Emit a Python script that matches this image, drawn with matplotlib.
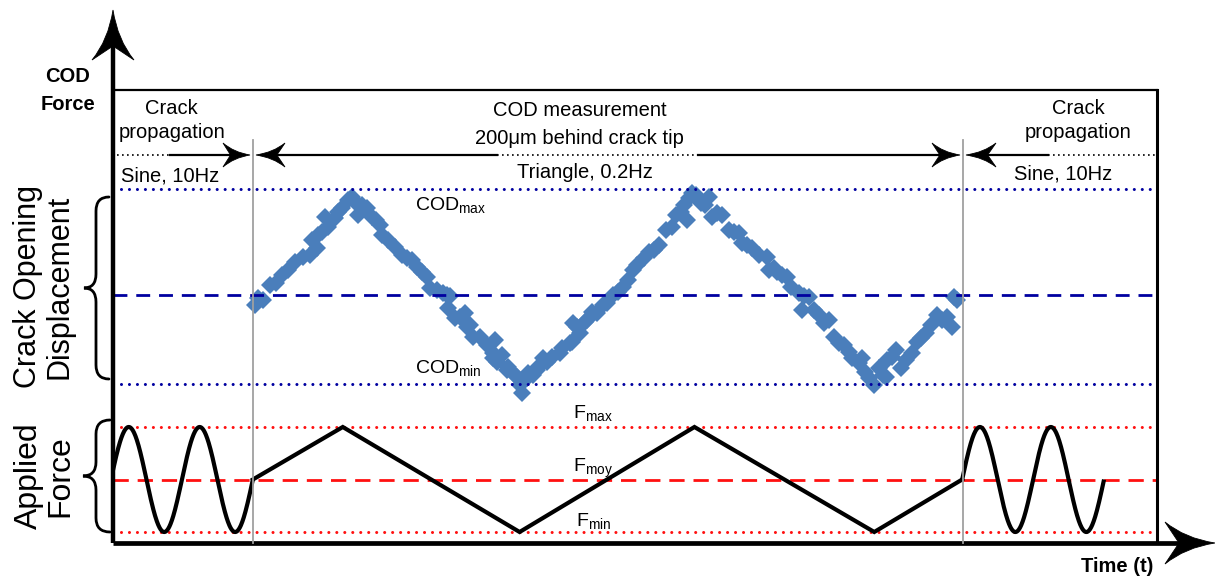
#!/usr/bin/env python

import numpy as np
import matplotlib
matplotlib.use('Agg')
from matplotlib import pyplot as plt
from matplotlib.path import Path
from matplotlib.patches import PathPatch

plt.rcParams['font.family'] = ['Liberation Sans', 'DejaVu Sans']
plt.rcParams['mathtext.fontset'] = 'custom'
plt.rcParams['mathtext.rm'] = 'Liberation Sans'
plt.rcParams['mathtext.it'] = 'Liberation Sans:italic'
plt.rcParams['mathtext.bf'] = 'Liberation Sans:bold'

W, H = 1215, 580

# time axis in arbitrary units, 0 = left edge of the record
T_END = 1045
t_switch = [140, 850]          # start / end of the COD measurement window

# applied force levels (a.u.)
F_MIN, F_MOY, F_MAX = 0, 53, 106
# triangle, 0.2Hz : vertices
tri_t = [140, 230, 407, 582, 762, 850]
tri_f = [F_MOY, F_MAX, F_MIN, F_MAX, F_MIN, F_MOY]
# sine, 10Hz : (start, end, rising zero crossing)
SINE_PERIOD = 71
sine_blocks = [(0, 140, 140), (850, 992, 850)]

# crack opening displacement levels (a.u.)
COD_MIN, COD_MOY, COD_MAX = 0, 89, 195
# measured COD points
cod_t = [142, 145, 150, 157, 163, 169, 175, 182, 190, 197, 199, 204, 205, 209,
         215, 212, 222, 225, 229, 235, 239, 242,
         245, 249, 254, 259, 263, 267, 269, 275, 282, 289, 294, 299, 304, 309,
         314, 317, 324, 330, 334, 337, 335, 342, 347, 352, 354, 357, 360, 367,
         374, 380, 382, 380, 384, 389, 394, 395, 402, 404, 407, 409,
         414, 415, 420, 424, 425, 430, 434, 439, 447, 449, 457, 459, 460, 464,
         467, 472, 474, 479, 484, 490, 494, 500, 505, 510, 515, 520, 525, 532,
         537, 542, 547, 554, 560, 564, 569, 572, 575, 577, 580, 584,
         589, 593, 597, 600, 605, 610, 617, 622, 627, 630, 635, 640, 647, 655,
         657, 662, 665, 670, 675, 679, 687, 692, 697, 690, 702, 707, 712, 717,
         722, 727, 732, 737, 740, 747, 750, 753, 757, 762,
         767, 771, 774, 775, 780, 784, 789, 794, 800, 805, 809, 814, 819, 825,
         830, 835, 840, 842, 845]
cod_v = [79, 86, 84, 99, 101, 109, 114, 122, 127, 129, 144, 136, 149, 152,
         157, 167, 166, 172, 176, 184, 187, 182,
         169, 179, 176, 167, 164, 159, 149, 144, 137, 129, 126, 124, 117, 112,
         107, 96, 94, 91, 89, 88, 76, 66, 67, 71, 57, 59, 47, 47,
         39, 31, 44, 26, 22, 29, 14, 17, 9, 7, -1, -9,
         6, 11, 9, 14, 17, 26, 22, 27, 31, 36, 41, 42, 61, 57,
         51, 62, 64, 72, 71, 79, 81, 89, 92, 97, 104, 114, 119, 126,
         132, 134, 139, 154, 157, 169, 172, 179, 164, 186, 191, 189,
         181, 179, 187, 167, 171, 169, 154, 152, 151, 141, 139, 136, 129, 127,
         114, 116, 112, 109, 107, 97, 91, 88, 87, 74, 74, 69, 61, 64,
         47, 41, 39, 32, 26, 21, 26, 12, 6, -1,
         16, 9, 7, 24, 27, 34, 16, 24, 31, 42, 46, 51, 59, 69,
         64, 67, 57, 87, 84]

# frame in pixels (x0, y0, x1, y1), y measured from the top
BOX = (113, 90, 1157, 543)
COD_BAND = (189, 384)
F_BAND = (427, 532)

BLUE_PTS = '#4a7ebb'
NAVY = '#0000a0'
RED = '#ff1010'
DOTS = (0, (0.01, 2.6))


def px_axes(fig, x0, y0, x1, y1, **kw):
    return fig.add_axes([x0 / W, 1 - y1 / H, (x1 - x0) / W, (y1 - y0) / H], **kw)


def arrow_head(ax, tip, direction, length, half_w):
    d = np.asarray(direction, float)
    d = d / np.hypot(*d)
    n = np.array([-d[1], d[0]])
    tip = np.asarray(tip, float)
    b1 = tip - length * d + half_w * n
    b2 = tip - length * d - half_w * n
    c1 = tip - 0.6 * length * d + 0.22 * half_w * n
    c2 = tip - 0.6 * length * d - 0.22 * half_w * n
    notch = tip - 0.72 * length * d
    verts = [tip, c1, b1, notch, b2, c2, tip, tip]
    codes = [Path.MOVETO, Path.CURVE3, Path.CURVE3, Path.LINETO,
             Path.LINETO, Path.CURVE3, Path.CURVE3, Path.CLOSEPOLY]
    ax.add_patch(PathPatch(Path(verts, codes), fc='black', ec='black',
                           lw=0.6, zorder=6))


def brace(ax, x_end, x_mid, x_tip, y0, y1, h=14, lw=2.0):
    ym = (y0 + y1) / 2
    verts = [(x_end, y0), (x_mid, y0), (x_mid, y0 + h),
             (x_mid, ym - h), (x_mid, ym), (x_tip, ym),
             (x_mid, ym), (x_mid, ym + h),
             (x_mid, y1 - h), (x_mid, y1), (x_end, y1)]
    codes = [Path.MOVETO, Path.CURVE3, Path.CURVE3,
             Path.LINETO, Path.CURVE3, Path.CURVE3,
             Path.CURVE3, Path.CURVE3,
             Path.LINETO, Path.CURVE3, Path.CURVE3]
    ax.add_patch(PathPatch(Path(verts, codes), fc='none', ec='black',
                           lw=lw, capstyle='round', zorder=6))


def level(ax, y, color, ls, lw):
    ax.axhline(y, color=color, lw=lw, ls=ls, zorder=3, clip_on=False,
               dash_capstyle='round' if ls is DOTS else 'butt')


def main():
    fig = plt.figure(figsize=(W / 100, H / 100), dpi=100)
    x0, y0, x1, y1 = BOX

    # COD band
    ax_c = px_axes(fig, x0, COD_BAND[0], x1, COD_BAND[1])
    ax_c.set_xlim(0, T_END)
    ax_c.set_ylim(COD_MIN, COD_MAX)
    ax_c.axis('off')
    ax_c.plot(cod_t, cod_v, 'D', color=BLUE_PTS, ms=9.5, mew=0,
              clip_on=False, zorder=2)
    level(ax_c, COD_MAX, NAVY, DOTS, 2.2)
    level(ax_c, COD_MIN, NAVY, DOTS, 2.2)
    level(ax_c, COD_MOY, NAVY, (0, (5, 3.2)), 2.0)
    ax_c.text(302, COD_MAX - 16, r'COD$_{\mathrm{max}}$', fontsize=14,
              va='center', ha='left')
    ax_c.text(302, COD_MIN + 16, r'COD$_{\mathrm{min}}$', fontsize=14,
              va='center', ha='left')

    # force band
    ax_f = px_axes(fig, x0, F_BAND[0], x1, F_BAND[1])
    ax_f.set_xlim(0, T_END)
    ax_f.set_ylim(F_MIN, F_MAX)
    ax_f.axis('off')
    level(ax_f, F_MAX, RED, DOTS, 2.2)
    level(ax_f, F_MIN, RED, DOTS, 2.2)
    level(ax_f, F_MOY, RED, (0, (5.5, 3.2)), 2.0)
    for ts, te, tz in sine_blocks:
        t = np.linspace(ts, te, 400)
        f = F_MOY + (F_MAX - F_MOY) * np.sin(2 * np.pi * (t - tz) / SINE_PERIOD)
        ax_f.plot(t, f, color='black', lw=3, clip_on=False, zorder=4,
                  solid_capstyle='butt')
    ax_f.plot(tri_t, tri_f, color='black', lw=3, clip_on=False, zorder=4,
              solid_joinstyle='miter')
    ax_f.text(460, F_MAX + 14, r'F$_{\mathrm{max}}$', fontsize=14, va='center')
    ax_f.text(460, F_MOY + 11, r'F$_{\mathrm{moy}}$', fontsize=14, va='center')
    ax_f.text(463, F_MIN + 11, r'F$_{\mathrm{min}}$', fontsize=14, va='center')

    # overlay in pixel units for frame, arrows and annotations
    ov = fig.add_axes([0, 0, 1, 1], zorder=5)
    ov.set_xlim(0, W)
    ov.set_ylim(H, 0)
    ov.axis('off')
    ov.patch.set_alpha(0)

    # separators between loading blocks
    for ts in t_switch:
        ov.plot([x0 + ts, x0 + ts], [140, y1], color='#a0a0a0', lw=1.3,
                zorder=3)

    # frame and axes
    ov.plot([x0, x1], [y0, y0], color='black', lw=1.6)
    ov.plot([x1, x1], [y0, y1], color='black', lw=2.2)
    ov.plot([x0, x0], [y1, 40], color='black', lw=3.2, solid_capstyle='butt')
    ov.plot([x0, 1185], [y1, y1], color='black', lw=3.4, solid_capstyle='butt')
    arrow_head(ov, (x0, 10), (0, -1), 50, 21)
    arrow_head(ov, (1215, y1), (1, 0), 50, 21)

    # loading sequence header
    ya = 155
    xs0, xs1 = x0 + t_switch[0], x0 + t_switch[1]
    ov.plot([117, 170], [ya, ya], color='black', lw=1.2, ls=(0, (1, 2)))
    ov.plot([170, xs0 - 8], [ya, ya], color='black', lw=1.6)
    ov.plot([xs0 + 8, 497], [ya, ya], color='black', lw=1.6)
    ov.plot([497, 698], [ya, ya], color='black', lw=1.2, ls=(0, (1, 2)))
    ov.plot([698, xs1 - 8], [ya, ya], color='black', lw=1.6)
    ov.plot([xs1 + 8, 1048], [ya, ya], color='black', lw=1.6)
    ov.plot([1048, x1], [ya, ya], color='black', lw=1.2, ls=(0, (1, 2)))
    arrow_head(ov, (xs0 - 3, ya), (1, 0), 27, 12)
    arrow_head(ov, (xs0 + 3, ya), (-1, 0), 29, 12)
    arrow_head(ov, (xs1 - 3, ya), (1, 0), 28, 12)
    arrow_head(ov, (xs1 + 3, ya), (-1, 0), 30, 12)

    fs = 14.5
    ov.text(171, 108, 'Crack', fontsize=fs, ha='center', va='center')
    ov.text(172, 132, 'propagation', fontsize=fs, ha='center', va='center')
    ov.text(170, 176, 'Sine, 10Hz', fontsize=fs, ha='center', va='center')
    ov.text(580, 110, 'COD measurement', fontsize=fs, ha='center', va='center')
    ov.text(579, 138, '200\u03bcm behind crack tip', fontsize=fs,
            ha='center', va='center')
    ov.text(585, 172, 'Triangle, 0.2Hz', fontsize=fs, ha='center', va='center')
    ov.text(1078, 108, 'Crack', fontsize=fs, ha='center', va='center')
    ov.text(1078, 132, 'propagation', fontsize=fs, ha='center', va='center')
    ov.text(1063, 174, 'Sine, 10Hz', fontsize=fs, ha='center', va='center')

    # axis labels
    ov.text(68, 76, 'COD', fontsize=14.5, fontweight='bold', ha='center',
            va='center')
    ov.text(68, 104, 'Force', fontsize=14.5, fontweight='bold', ha='center',
            va='center')
    ov.text(1117, 567, 'Time (t)', fontsize=14.5, fontweight='bold',
            ha='center', va='center')

    ov.text(44, 287, 'Crack Opening\nDisplacement', fontsize=22, rotation=90,
            ha='center', va='center', linespacing=1.05)
    ov.text(45, 476, 'Applied\nForce', fontsize=23, rotation=90,
            ha='center', va='center', linespacing=1.05)
    brace(ov, 109, 96, 84, 197, 379)
    brace(ov, 110, 96, 83, 420, 532)

    fig.savefig('out.png', dpi=100)


if __name__ == '__main__':
    main()
